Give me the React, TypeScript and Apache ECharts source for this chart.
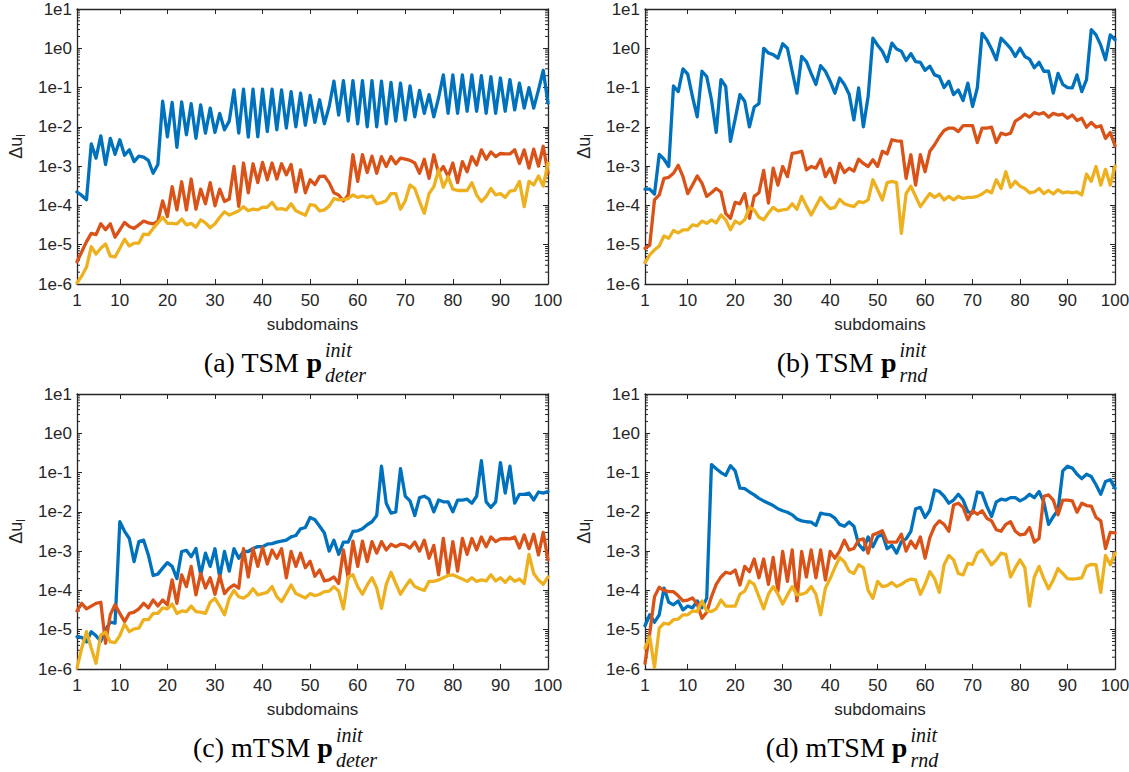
import React, { useEffect, useRef } from "react";
import * as echarts from "echarts";

// Per-subdomain error Δu_l for the three iterates, four initialisation variants.
const subdomainTicks = [1, 10, 20, 30, 40, 50, 60, 70, 80, 90, 100];

const tsmDeterBlue = [
  2.2e-4, 1.8e-4, 1.4e-4, 3.7e-3, 1.6e-3, 5.9e-3, 1.1e-3, 5.1e-3, 2.0e-3, 4.7e-3,
  1.9e-3, 2.6e-3, 1.3e-3, 1.8e-3, 1.7e-3, 1.4e-3, 6.6e-4, 1.1e-3, 4.5e-2, 5.6e-3,
  4.2e-2, 3.0e-3, 4.3e-2, 6.3e-3, 3.9e-2, 5.1e-3, 3.6e-2, 6.9e-3, 3.0e-2, 7.2e-3,
  2.2e-2, 8.4e-3, 1.4e-2, 8.7e-2, 6.9e-3, 9.1e-2, 5.5e-3, 9.1e-2, 5.6e-3, 9.1e-2,
  7.6e-3, 9.1e-2, 8.4e-3, 8.7e-2, 9.3e-3, 7.9e-2, 1.0e-2, 7.2e-2, 1.1e-2, 6.3e-2,
  1.3e-2, 4.9e-2, 1.2e-2, 3.3e-2, 1.45e-1, 2.0e-2, 1.5e-1, 1.4e-2, 1.5e-1, 1.2e-2,
  1.5e-1, 1.0e-2, 1.5e-1, 1.0e-2, 1.45e-1, 1.2e-2, 1.35e-1, 1.4e-2, 1.3e-1, 1.5e-2,
  1.1e-1, 1.8e-2, 8.5e-2, 2.2e-2, 6.6e-2, 1.8e-2, 5.5e-2, 2.1e-1, 2.2e-2, 2.1e-1,
  2.2e-2, 2.1e-1, 2.5e-2, 2.1e-1, 2.5e-2, 2.0e-1, 2.2e-2, 1.9e-1, 2.2e-2, 1.75e-1,
  2.5e-2, 1.6e-1, 2.7e-2, 1.3e-1, 3.0e-2, 1.0e-1, 3.0e-2, 8.7e-2, 2.75e-1, 4.0e-2,
];
const tsmDeterRed = [
  3.7e-6, 6.6e-6, 1.2e-5, 1.95e-5, 1.8e-5, 3.4e-5, 2.4e-5, 3.4e-5, 1.55e-5, 2.4e-5,
  3.7e-5, 2.9e-5, 2.6e-5, 3.2e-5, 4.0e-5, 3.6e-5, 3.4e-5, 4.0e-5, 1.3e-4, 5.2e-5,
  3.0e-4, 7.7e-5, 4.0e-4, 7.7e-5, 4.7e-4, 8.0e-5, 2.6e-4, 1.1e-4, 3.8e-4, 9.8e-5,
  2.6e-4, 1.26e-4, 1.45e-4, 9.8e-4, 9.5e-5, 1.2e-3, 2.1e-4, 1.15e-3, 3.8e-4, 1.25e-3,
  4.5e-4, 1.2e-3, 4.7e-4, 1.15e-3, 6.0e-4, 1.1e-3, 2.2e-4, 8.0e-4, 2.1e-4, 4.5e-4,
  3.4e-4, 5.5e-4, 5.6e-4, 3.8e-4, 2.1e-4, 1.85e-4, 1.3e-4, 1.85e-4, 1.95e-3, 4.1e-4,
  1.95e-3, 6.9e-4, 1.8e-3, 6.6e-4, 1.75e-3, 9.8e-4, 1.75e-3, 1.15e-3, 1.6e-3, 1.5e-3,
  1.4e-3, 1.2e-3, 6.6e-4, 1.5e-3, 4.9e-4, 1.95e-3, 6.6e-4, 9.8e-4, 5.4e-4, 1.2e-3,
  3.8e-4, 1.3e-3, 7.2e-4, 1.75e-3, 1.07e-3, 2.6e-3, 1.5e-3, 2.3e-3, 1.75e-3, 2.1e-3,
  2.05e-3, 2.05e-3, 2.6e-3, 1.17e-3, 2.6e-3, 8.9e-4, 2.7e-3, 1.0e-3, 3.2e-3, 6.6e-4,
];
const tsmDeterYellow = [
  1.07e-6, 1.6e-6, 2.7e-6, 8.9e-6, 5.8e-6, 8.1e-6, 1.05e-5, 5.1e-6, 4.9e-6, 8.1e-6,
  1.38e-5, 9.3e-6, 1.1e-5, 1.1e-5, 1.87e-5, 1.8e-5, 2.6e-5, 3.6e-5, 5.0e-5, 3.5e-5,
  3.5e-5, 3.4e-5, 4.5e-5, 3.2e-5, 3.5e-5, 2.8e-5, 4.3e-5, 3.6e-5, 2.7e-5, 3.4e-5,
  5.0e-5, 6.9e-5, 5.7e-5, 6.4e-5, 7.3e-5, 9.3e-5, 7.3e-5, 8.1e-5, 7.7e-5, 9.0e-5,
  9.0e-5, 1.2e-4, 8.1e-5, 8.3e-5, 7.7e-5, 1.1e-4, 7.3e-5, 6.4e-5, 5.6e-5, 1.05e-4,
  1.0e-4, 7.3e-5, 7.7e-5, 9.6e-5, 1.5e-4, 1.38e-4, 1.43e-4, 1.5e-4, 1.85e-4, 1.6e-4,
  1.74e-4, 1.6e-4, 1.74e-4, 1.1e-4, 1.18e-4, 1.32e-4, 2.0e-4, 2.0e-4, 8.0e-5, 1.32e-4,
  3.3e-4, 2.7e-4, 1.25e-4, 6.3e-5, 2.0e-4, 3.0e-4, 8.0e-4, 2.9e-4, 5.4e-4, 2.6e-4,
  2.4e-4, 2.4e-4, 2.4e-4, 3.8e-4, 1.85e-4, 1.25e-4, 1.67e-4, 2.7e-4, 1.85e-4, 2.0e-4,
  1.6e-4, 2.3e-4, 2.4e-4, 4.1e-4, 9.3e-5, 4.1e-4, 3.3e-4, 5.6e-4, 3.1e-4, 1.2e-3,
];

const tsmRndBlue = [
  2.6e-4, 2.6e-4, 1.95e-4, 2.0e-3, 1.5e-3, 9.8e-4, 1.1e-1, 7.9e-2, 3.0e-1, 2.2e-1,
  5.9e-2, 1.8e-2, 2.6e-1, 1.9e-1, 4.9e-2, 7.2e-3, 1.6e-1, 1.07e-1, 4.3e-3, 1.6e-2,
  6.6e-2, 4.5e-2, 1.0e-2, 3.2e-2, 3.9e-2, 1.0, 7.6e-1, 6.9e-1, 5.6e-1, 1.3,
  1.0, 2.6e-1, 7.2e-2, 6.2e-1, 4.6e-1, 2.3e-1, 1.2e-1, 3.6e-1, 2.6e-1, 1.45e-1,
  7.2e-2, 1.75e-1, 1.2e-1, 6.8e-2, 1.5e-2, 9.8e-2, 1.0e-2, 5.9e-2, 1.8, 1.2,
  8.4e-1, 4.6e-1, 1.35, 9.6e-1, 8.4e-1, 4.9e-1, 7.3e-1, 4.6e-1, 4.4e-1, 2.75e-1,
  3.5e-1, 2.1e-1, 1.9e-1, 1.0e-1, 1.45e-1, 6.6e-2, 8.7e-2, 4.7e-2, 1.3e-1, 3.3e-2,
  9.8e-2, 2.4, 1.65, 9.6e-1, 5.1e-1, 1.8, 1.35, 1.0, 6.2e-1, 1.0,
  6.2e-1, 5.3e-1, 3.2e-1, 4.4e-1, 2.6e-1, 2.6e-1, 7.2e-2, 2.3e-1, 1.2e-1, 1.0e-1,
  9.8e-2, 2.1e-1, 7.9e-2, 1.6e-1, 3.0, 2.2, 1.2, 5.1e-1, 2.2, 1.65,
];
const tsmRndRed = [
  8.1e-6, 9.8e-6, 1.38e-4, 1.85e-4, 4.9e-4, 5.2e-4, 6.6e-4, 1.05e-3, 5.4e-4, 2.0e-4,
  3.3e-4, 5.6e-4, 3.7e-4, 1.7e-4, 2.1e-4, 2.7e-4, 2.2e-4, 6.3e-5, 4.7e-5, 1.2e-4,
  1.1e-4, 2.0e-4, 4.7e-5, 1.7e-4, 2.1e-4, 7.8e-4, 1.15e-4, 8.9e-4, 3.3e-4, 9.8e-4,
  5.4e-4, 2.1e-3, 2.2e-3, 2.4e-3, 8.0e-4, 9.8e-4, 8.9e-4, 1.5e-3, 5.4e-4, 8.9e-4,
  3.8e-4, 1.17e-3, 6.9e-4, 8.9e-4, 7.5e-4, 1.5e-3, 1.17e-3, 9.8e-4, 1.45e-3, 9.8e-4,
  2.4e-3, 2.05e-3, 4.7e-3, 4.4e-3, 4.3e-3, 4.9e-4, 1.95e-3, 3.3e-4, 1.95e-3, 7.2e-4,
  2.4e-3, 3.5e-3, 5.6e-3, 8.1e-3, 9.3e-3, 9.3e-3, 7.6e-3, 1.07e-2, 1.07e-2, 1.07e-2,
  4.0e-3, 9.3e-3, 9.3e-3, 9.8e-3, 4.0e-3, 6.9e-3, 6.3e-3, 6.9e-3, 1.4e-2, 1.66e-2,
  2.1e-2, 1.77e-2, 2.3e-2, 2.1e-2, 2.3e-2, 1.77e-2, 2.2e-2, 2.0e-2, 2.1e-2, 1.66e-2,
  2.0e-2, 1.45e-2, 1.66e-2, 9.8e-3, 1.3e-2, 9.8e-3, 1.07e-2, 5.1e-3, 7.2e-3, 3.3e-3,
];
const tsmRndYellow = [
  3.5e-6, 5.5e-6, 7.4e-6, 9.3e-6, 1.66e-5, 1.46e-5, 2.3e-5, 2.0e-5, 2.4e-5, 2.4e-5,
  3.2e-5, 3.0e-5, 4.0e-5, 3.5e-5, 4.3e-5, 3.6e-5, 5.7e-5, 4.3e-5, 2.4e-5, 4.0e-5,
  3.4e-5, 4.3e-5, 8.9e-5, 7.7e-5, 5.0e-5, 4.3e-5, 6.4e-5, 8.9e-5, 7.3e-5, 7.7e-5,
  8.0e-5, 1.1e-4, 8.0e-5, 1.7e-4, 9.6e-5, 5.7e-5, 9.6e-5, 1.6e-4, 1.1e-4, 8.3e-5,
  8.9e-5, 1.43e-4, 1.1e-4, 1.0e-4, 9.3e-5, 1.25e-4, 1.18e-4, 1.38e-4, 4.5e-4, 2.5e-4,
  1.38e-4, 3.8e-4, 4.1e-4, 3.8e-4, 1.95e-5, 2.0e-4, 3.1e-4, 1.7e-4, 9.3e-5, 1.38e-4,
  2.0e-4, 1.6e-4, 1.95e-4, 1.38e-4, 1.7e-4, 1.38e-4, 1.7e-4, 1.5e-4, 1.6e-4, 1.6e-4,
  1.7e-4, 1.95e-4, 2.4e-4, 2.1e-4, 4.5e-4, 2.7e-4, 7.2e-4, 2.9e-4, 4.1e-4, 3.1e-4,
  2.7e-4, 2.1e-4, 2.2e-4, 2.7e-4, 2.0e-4, 2.4e-4, 1.95e-4, 2.5e-4, 2.1e-4, 2.2e-4,
  2.1e-4, 2.2e-4, 1.85e-4, 6.3e-4, 4.1e-4, 9.8e-4, 3.3e-4, 8.3e-4, 3.3e-4, 1.0e-3,
];

const mtsmDeterBlue = [
  6.6e-6, 6.4e-6, 4.9e-6, 8.9e-6, 7.0e-6, 5.1e-6, 1.0e-5, 1.55e-5, 1.46e-5, 5.6e-3,
  3.2e-3, 2.1e-3, 5.4e-4, 1.75e-3, 1.9e-3, 8.0e-4, 2.4e-4, 2.6e-4, 3.7e-4, 5.1e-4,
  4.1e-4, 2.0e-4, 9.8e-4, 1.05e-3, 7.2e-4, 1.17e-3, 2.5e-4, 8.9e-4, 4.1e-4, 1.15e-3,
  2.2e-4, 9.8e-4, 3.1e-4, 1.15e-3, 6.6e-4, 9.8e-4, 9.8e-4, 1.17e-3, 1.3e-3, 1.3e-3,
  1.5e-3, 1.55e-3, 1.7e-3, 1.8e-3, 1.9e-3, 2.3e-3, 2.5e-3, 3.7e-3, 4.0e-3, 7.2e-3,
  6.3e-3, 4.3e-3, 2.9e-3, 1.0e-3, 1.9e-3, 8.3e-4, 1.7e-3, 1.7e-3, 3.2e-3, 3.3e-3,
  3.7e-3, 4.7e-3, 5.6e-3, 8.1e-3, 1.45e-1, 1.66e-2, 9.3e-3, 1.0e-2, 1.25e-1, 2.5e-2,
  1.9e-2, 8.1e-3, 2.3e-2, 2.5e-2, 2.1e-2, 1.0e-2, 2.0e-2, 1.8e-2, 1.8e-2, 1.0e-2,
  2.0e-2, 2.0e-2, 2.1e-2, 1.66e-2, 2.5e-2, 2.0e-1, 1.8e-2, 1.3e-2, 1.8e-2, 1.8e-1,
  3.0e-2, 1.45e-1, 1.66e-2, 2.8e-2, 2.8e-2, 3.0e-2, 2.0e-2, 3.2e-2, 3.0e-2, 3.3e-2,
];
const mtsmDeterRed = [
  3.0e-5, 4.7e-5, 3.4e-5, 4.0e-5, 4.7e-5, 5.0e-5, 4.5e-6, 2.4e-5, 4.3e-5, 2.6e-5,
  1.6e-5, 2.6e-5, 2.8e-5, 3.4e-5, 4.7e-5, 3.6e-5, 5.7e-5, 4.0e-5, 5.7e-5, 4.3e-5,
  1.85e-4, 4.7e-5, 2.5e-4, 1.25e-4, 4.1e-4, 7.7e-5, 2.7e-4, 1.15e-4, 2.1e-4, 8.0e-5,
  2.4e-4, 8.3e-5, 1.15e-4, 1.38e-4, 1.15e-4, 1.15e-3, 2.2e-4, 1.17e-3, 4.1e-4, 1.25e-3,
  4.7e-4, 1.07e-3, 6.6e-4, 1.15e-3, 2.1e-4, 9.8e-4, 4.1e-4, 8.9e-4, 3.8e-4, 5.5e-4,
  2.3e-4, 3.3e-4, 1.74e-4, 1.85e-4, 2.2e-4, 1.5e-4, 1.07e-3, 2.0e-4, 1.8e-3, 4.1e-4,
  1.8e-3, 5.4e-4, 1.75e-3, 8.9e-4, 1.75e-3, 1.07e-3, 1.5e-3, 1.3e-3, 1.5e-3, 1.45e-3,
  1.2e-3, 1.7e-3, 1.0e-3, 1.9e-3, 6.6e-4, 1.4e-3, 2.5e-4, 2.1e-3, 2.7e-4, 1.75e-3,
  3.1e-4, 2.1e-3, 8.3e-4, 2.1e-3, 1.07e-3, 2.3e-3, 1.3e-3, 2.3e-3, 1.75e-3, 2.05e-3,
  2.1e-3, 2.05e-3, 2.3e-3, 1.2e-3, 2.6e-3, 1.15e-3, 2.7e-3, 8.0e-4, 3.0e-3, 6.0e-4,
];
const mtsmDeterYellow = [
  1.07e-6, 3.4e-6, 8.9e-6, 3.4e-6, 1.4e-6, 7.4e-6, 8.6e-6, 4.9e-6, 4.7e-6, 7.1e-6,
  1.38e-5, 8.9e-6, 1.05e-5, 1.1e-5, 1.8e-5, 1.8e-5, 2.6e-5, 2.6e-5, 3.6e-5, 3.4e-5,
  4.5e-5, 2.6e-5, 3.0e-5, 2.9e-5, 4.0e-5, 2.9e-5, 2.8e-5, 2.6e-5, 5.0e-5, 6.3e-5,
  4.0e-5, 2.4e-5, 6.3e-5, 1.0e-4, 6.9e-5, 6.4e-5, 7.7e-5, 1.1e-4, 7.7e-5, 8.3e-5,
  8.9e-5, 1.25e-4, 6.9e-5, 5.2e-5, 8.3e-5, 1.38e-4, 8.3e-5, 7.3e-5, 6.4e-5, 8.3e-5,
  7.3e-5, 8.0e-5, 9.3e-5, 9.6e-5, 1.25e-4, 9.6e-5, 3.4e-5, 2.2e-4, 2.5e-4, 1.25e-4,
  8.0e-5, 1.38e-4, 2.1e-4, 1.15e-4, 3.5e-5, 1.43e-4, 2.9e-4, 1.5e-4, 8.0e-5, 1.25e-4,
  1.85e-4, 1.25e-4, 1.1e-4, 1.0e-4, 1.7e-4, 1.7e-4, 1.85e-4, 2.1e-4, 2.4e-4, 2.5e-4,
  2.2e-4, 1.95e-4, 1.7e-4, 2.1e-4, 1.7e-4, 1.85e-4, 1.74e-4, 2.5e-4, 1.74e-4, 2.1e-4,
  1.6e-4, 2.2e-4, 1.7e-4, 1.95e-4, 1.5e-4, 8.3e-4, 2.7e-4, 1.85e-4, 1.43e-4, 2.2e-4,
];

const mtsmRndBlue = [
  1.26e-5, 2.4e-5, 1.55e-5, 2.4e-5, 1.15e-4, 5.0e-5, 4.3e-5, 5.4e-5, 3.2e-5, 4.0e-5,
  3.6e-5, 5.4e-5, 3.6e-5, 6.3e-5, 1.6e-1, 1.25e-1, 1.0e-1, 8.5e-2, 1.5e-1, 1.1e-1,
  4.0e-2, 3.9e-2, 3.2e-2, 2.7e-2, 2.2e-2, 1.9e-2, 1.66e-2, 1.45e-2, 1.2e-2, 1.07e-2,
  9.8e-3, 8.4e-3, 6.6e-3, 5.9e-3, 5.6e-3, 5.5e-3, 4.5e-3, 9.3e-3, 8.7e-3, 8.4e-3,
  6.9e-3, 4.8e-3, 4.3e-3, 5.5e-3, 4.3e-3, 1.5e-3, 1.07e-3, 2.3e-3, 1.3e-3, 2.3e-3,
  2.7e-3, 1.15e-3, 1.4e-3, 8.9e-4, 1.75e-3, 2.05e-3, 3.2e-3, 1.2e-2, 1.3e-2, 7.2e-3,
  1.1e-2, 3.6e-2, 3.3e-2, 2.5e-2, 1.66e-2, 2.0e-2, 2.8e-2, 2.0e-2, 1.0e-2, 9.3e-3,
  3.2e-2, 3.0e-2, 1.4e-2, 7.6e-3, 1.8e-2, 2.1e-2, 2.0e-2, 2.3e-2, 2.3e-2, 1.9e-2,
  2.2e-2, 2.8e-2, 2.3e-2, 3.3e-2, 1.8e-2, 4.8e-3, 7.6e-3, 1.1e-2, 1.1e-1, 1.45e-1,
  1.3e-1, 9.1e-2, 7.0e-2, 9.1e-2, 7.9e-2, 4.9e-2, 2.8e-2, 5.9e-2, 6.6e-2, 4.0e-2,
];
const mtsmRndRed = [
  1.4e-6, 8.1e-6, 6.9e-5, 1.2e-4, 1.0e-4, 9.3e-5, 9.3e-5, 7.3e-5, 5.4e-5, 5.7e-5,
  6.4e-5, 4.5e-5, 1.95e-5, 2.8e-5, 6.9e-5, 1.43e-4, 2.2e-4, 2.9e-4, 2.7e-4, 3.3e-4,
  1.38e-4, 4.1e-4, 3.0e-4, 6.3e-4, 2.1e-4, 6.3e-4, 1.43e-4, 6.9e-4, 9.6e-5, 9.8e-4,
  1.7e-4, 1.07e-3, 5.4e-5, 9.8e-4, 2.2e-4, 1.07e-3, 2.1e-4, 1.07e-3, 1.85e-4, 9.8e-4,
  6.6e-4, 1.0e-3, 1.9e-3, 1.07e-3, 1.17e-3, 1.9e-3, 2.05e-3, 8.9e-4, 2.6e-3, 2.9e-3,
  3.3e-3, 1.7e-3, 1.7e-3, 1.7e-3, 2.7e-3, 1.0e-3, 1.8e-3, 1.2e-3, 2.3e-3, 6.6e-4,
  2.2e-3, 4.3e-3, 5.9e-3, 4.8e-3, 3.2e-3, 1.5e-2, 1.66e-2, 1.3e-2, 6.3e-3, 1.07e-2,
  8.7e-3, 1.07e-2, 6.9e-3, 5.9e-3, 3.5e-3, 3.2e-3, 4.8e-3, 5.6e-3, 3.2e-3, 2.6e-3,
  2.7e-3, 4.0e-3, 1.7e-3, 2.1e-3, 2.5e-2, 2.7e-2, 2.0e-2, 8.4e-3, 2.0e-2, 2.0e-2,
  1.9e-2, 9.8e-3, 1.66e-2, 1.45e-2, 1.4e-2, 7.2e-3, 5.9e-3, 1.17e-3, 3.0e-3, 2.9e-3,
];
const mtsmRndYellow = [
  3.4e-6, 6.6e-6, 1.1e-6, 1.1e-5, 1.46e-5, 1.38e-5, 1.8e-5, 1.87e-5, 2.4e-5, 2.4e-5,
  3.0e-5, 2.9e-5, 5.4e-5, 3.0e-5, 2.9e-5, 3.4e-5, 5.7e-5, 4.0e-5, 4.0e-5, 4.0e-5,
  8.0e-5, 9.6e-5, 1.74e-4, 1.43e-4, 6.9e-5, 3.4e-5, 8.0e-5, 1.25e-4, 8.0e-5, 4.5e-5,
  7.7e-5, 1.25e-4, 7.7e-5, 8.0e-5, 8.9e-5, 1.25e-4, 8.0e-5, 2.4e-5, 1.15e-4, 2.0e-4,
  3.8e-4, 6.9e-4, 5.4e-4, 3.1e-4, 2.7e-4, 4.5e-4, 3.8e-4, 1.0e-4, 6.3e-5, 1.7e-4,
  1.25e-4, 1.32e-4, 1.6e-4, 1.25e-4, 1.43e-4, 1.74e-4, 1.95e-4, 1.85e-4, 8.0e-5, 1.43e-4,
  3.0e-4, 2.0e-4, 8.9e-5, 4.5e-4, 7.8e-4, 6.0e-4, 2.7e-4, 2.5e-4, 4.9e-4, 4.6e-4,
  8.9e-4, 1.07e-3, 6.9e-4, 4.5e-4, 6.0e-4, 8.9e-4, 8.3e-4, 2.2e-4, 3.8e-4, 6.0e-4,
  3.8e-4, 4.0e-5, 2.2e-4, 4.1e-4, 2.0e-4, 1.1e-4, 1.85e-4, 3.6e-4, 2.7e-4, 2.0e-4,
  1.95e-4, 2.0e-4, 2.1e-4, 4.1e-4, 4.6e-4, 4.5e-4, 8.9e-5, 7.8e-4, 4.5e-4, 8.9e-4,
];

const lineColors = ["#0072BD", "#D95319", "#EDB120"];
const axisColor = "#262626";
const sansFont = "'Liberation Sans', Arial, sans-serif";
const serifFont = "'Liberation Serif', 'Times New Roman', serif";

type Panel = {
  grid: { left: number; top: number; width: number; height: number };
  series: number[][];
  tag: string;
  sub: string;
  cx: number;
  cy: number;
};

const panels: Panel[] = [
  { grid: { left: 77, top: 9, width: 471, height: 275 }, series: [tsmDeterBlue, tsmDeterRed, tsmDeterYellow], tag: "(a) TSM ", sub: "deter", cx: 285, cy: 362 },
  { grid: { left: 645, top: 9, width: 470, height: 275 }, series: [tsmRndBlue, tsmRndRed, tsmRndYellow], tag: "(b) TSM ", sub: "rnd", cx: 852, cy: 362 },
  { grid: { left: 77, top: 394, width: 471, height: 275 }, series: [mtsmDeterBlue, mtsmDeterRed, mtsmDeterYellow], tag: "(c) mTSM ", sub: "deter", cx: 285, cy: 747 },
  { grid: { left: 645, top: 394, width: 470, height: 275 }, series: [mtsmRndBlue, mtsmRndRed, mtsmRndYellow], tag: "(d) mTSM ", sub: "rnd", cx: 852, cy: 747 },
];

// Minor tick positions of the log axis: 2..9 within every decade shown.
const decades = [1e-6, 1e-5, 1e-4, 1e-3, 1e-2, 1e-1, 1];
const minorTickValues = decades.flatMap((d) => [2, 3, 4, 5, 6, 7, 8, 9].map((m) => m * d));

const captionMain = 28;
const captionScript = 20;

function measure(text: string, font: string): number {
  const ctx = document.createElement("canvas").getContext("2d");
  if (!ctx) return text.length * 10;
  ctx.font = font;
  return ctx.measureText(text).width;
}

function buildOption() {
  const grids: any[] = [];
  const xAxes: any[] = [];
  const yAxes: any[] = [];
  const series: any[] = [];
  const graphics: any[] = [];

  const tickLine = { lineStyle: { color: axisColor, width: 1 } };
  const axisLine = { show: true, onZero: false, lineStyle: { color: axisColor, width: 1.3 } };

  panels.forEach((p, i) => {
    grids.push({ ...p.grid, containLabel: false, outerBoundsMode: "none" });

    xAxes.push({
      type: "value",
      gridIndex: i,
      position: "bottom",
      min: 1,
      max: 100,
      axisLine,
      axisTick: { show: true, inside: true, length: 5, customValues: subdomainTicks, ...tickLine },
      axisLabel: { customValues: subdomainTicks, fontFamily: sansFont, fontSize: 17, color: axisColor, margin: 8 },
      splitLine: { show: false },
      name: "subdomains",
      nameLocation: "middle",
      nameGap: 32,
      nameTextStyle: { fontFamily: sansFont, fontSize: 17, color: axisColor },
    });
    xAxes.push({
      type: "value",
      gridIndex: i,
      position: "top",
      min: 1,
      max: 100,
      axisLine,
      axisTick: { show: true, inside: true, length: 5, customValues: subdomainTicks, ...tickLine },
      axisLabel: { show: false },
      splitLine: { show: false },
    });

    yAxes.push({
      type: "log",
      logBase: 10,
      gridIndex: i,
      position: "left",
      min: 1e-6,
      max: 10,
      axisLine,
      axisTick: { show: true, inside: true, length: 5, ...tickLine },
      axisLabel: {
        fontFamily: sansFont,
        fontSize: 17,
        color: axisColor,
        margin: 5,
        formatter: (v: number) => "1e" + Math.round(Math.log10(v)),
      },
      splitLine: { show: false },
      name: "{d|Δu}{s|l}",
      nameLocation: "middle",
      nameRotate: 90,
      nameGap: 50,
      nameTextStyle: {
        color: axisColor,
        rich: {
          d: { fontFamily: sansFont, fontSize: 18, lineHeight: 22, color: axisColor, verticalAlign: "middle" },
          s: { fontFamily: sansFont, fontSize: 12, lineHeight: 10, color: axisColor, verticalAlign: "bottom" },
        },
      },
    });
    yAxes.push({
      type: "log",
      logBase: 10,
      gridIndex: i,
      position: "right",
      min: 1e-6,
      max: 10,
      axisLine,
      axisTick: { show: true, inside: true, length: 5, ...tickLine },
      axisLabel: { show: false },
      splitLine: { show: false },
    });

    p.series.forEach((values, k) => {
      series.push({
        type: "line",
        xAxisIndex: 2 * i,
        yAxisIndex: 2 * i,
        data: values.map((v, j) => [j + 1, v]),
        showSymbol: false,
        symbol: "none",
        silent: true,
        lineStyle: { color: lineColors[k], width: 3.3, join: "round", cap: "round" },
        itemStyle: { color: lineColors[k] },
      });
    });

    series.push({
      type: "custom",
      xAxisIndex: 2 * i,
      yAxisIndex: 2 * i,
      silent: true,
      clip: false,
      data: minorTickValues.map((v) => [1, v]),
      encode: { x: 0, y: 1 },
      renderItem: (_params: any, api: any) => {
        const v = api.value(1);
        const l = api.coord([1, v]);
        const r = api.coord([100, v]);
        const style = { stroke: axisColor, lineWidth: 1 };
        return {
          type: "group",
          children: [
            { type: "line", shape: { x1: l[0], y1: l[1], x2: l[0] + 3, y2: l[1] }, style },
            { type: "line", shape: { x1: r[0] - 3, y1: r[1], x2: r[0], y2: r[1] }, style },
          ],
        };
      },
    });

    // Sub-figure caption: "(x) TSM p^init_sub" with bold p and stacked italic scripts.
    const mainW =
      measure(p.tag, `${captionMain}px ${serifFont}`) +
      measure("p", `bold ${captionMain}px ${serifFont}`);
    const scriptW = Math.max(
      measure("init", `italic ${captionScript}px ${serifFont}`),
      measure(p.sub, `italic ${captionScript}px ${serifFont}`)
    );
    const x0 = p.cx - (mainW + scriptW + 3) / 2;
    graphics.push({
      type: "text",
      x: x0,
      y: p.cy,
      silent: true,
      style: {
        text: `{n|${p.tag}}{b|p}`,
        align: "left",
        verticalAlign: "middle",
        rich: {
          n: { fontFamily: serifFont, fontSize: captionMain, color: "#111" },
          b: { fontFamily: serifFont, fontSize: captionMain, fontWeight: "bold", color: "#111" },
        },
      },
    });
    graphics.push({
      type: "text",
      x: x0 + mainW + 3,
      y: p.cy,
      silent: true,
      style: {
        text: `init\n${p.sub}`,
        fontFamily: serifFont,
        fontSize: captionScript,
        fontStyle: "italic",
        lineHeight: 25,
        fill: "#111",
        align: "left",
        verticalAlign: "middle",
      },
    });
  });

  return {
    animation: false,
    backgroundColor: "#ffffff",
    textStyle: { fontFamily: sansFont },
    grid: grids,
    xAxis: xAxes,
    yAxis: yAxes,
    series,
    graphic: { elements: graphics },
  };
}

export default function App() {
  const ref = useRef<HTMLDivElement>(null);

  useEffect(() => {
    if (!ref.current) return;
    const chart = echarts.init(ref.current, undefined, { renderer: "svg" });
    chart.setOption(buildOption() as any);
    return () => chart.dispose();
  }, []);

  return (
    <div
      ref={ref}
      style={{ position: "fixed", left: 0, top: 0, width: 1129, height: 772, background: "#fff" }}
    />
  );
}
